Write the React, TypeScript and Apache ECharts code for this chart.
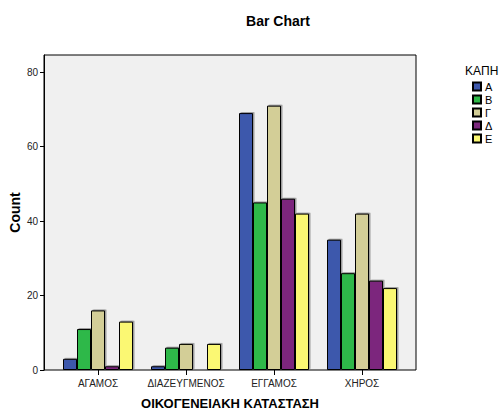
import React, { useEffect, useRef } from "react";
import * as echarts from "echarts";

const categories = ["ΑΓΑΜΟΣ", "ΔΙΑΖΕΥΓΜΕΝΟΣ", "ΕΓΓΑΜΟΣ", "ΧΗΡΟΣ"];
const seriesNames = ["Α", "Β", "Γ", "Δ", "Ε"];
const valuesA = [3, 1, 69, 35];
const valuesB = [11, 6, 45, 26];
const valuesG = [16, 7, 71, 42];
const valuesD = [1, 0, 46, 24];
const valuesE = [13, 7, 42, 22];
const yTicks = [0, 20, 40, 60, 80];
const colors = ["#3E58AC", "#2EB848", "#D3CE97", "#7C287D", "#FBF873"];

const FONT = "'Liberation Sans', Arial, sans-serif";

export default function App() {
  const ref = useRef<HTMLDivElement>(null);
  useEffect(() => {
    if (!ref.current) return;
    const chart = echarts.init(ref.current, null, { renderer: "svg" });
    const allValues = [valuesA, valuesB, valuesG, valuesD, valuesE];
    chart.setOption({
      animation: false,
      textStyle: { fontFamily: FONT },
      title: [
        {
          text: "Bar Chart",
          left: 273,
          textAlign: "center",
          top: 9,
          textStyle: { fontSize: 14, fontWeight: "bold", color: "#000", fontFamily: FONT },
        },
        {
          text: "ΚΑΠΗ",
          left: 465,
          top: 65,
          padding: 0,
          textStyle: { fontSize: 12, fontWeight: "normal", color: "#000", fontFamily: FONT },
        },
      ],
      legend: {
        orient: "vertical",
        left: 472,
        top: 81,
        padding: 0,
        itemWidth: 8,
        itemHeight: 8,
        itemGap: 2,
        icon: "rect",
        data: seriesNames,
        textStyle: { fontSize: 11, color: "#000", fontFamily: FONT, padding: [0, 0, 0, -1] },
      },
      grid: [
        {
          left: 44,
          right: 83,
          top: 55,
          bottom: 40,
          outerBoundsMode: "none",
          containLabel: false,
          show: true,
          backgroundColor: "#f0f0f0",
          borderColor: "#000",
          borderWidth: 1,
        },
        {
          left: 54,
          right: 93,
          top: 55,
          bottom: 40,
          outerBoundsMode: "none",
          containLabel: false,
        },
      ],
      xAxis: [
        { gridIndex: 0, type: "value", show: false },
        {
          gridIndex: 1,
          type: "category",
          data: categories,
          axisLine: { show: false },
          axisTick: { show: true, alignWithLabel: true, length: 5, lineStyle: { color: "#000" } },
          axisLabel: { fontSize: 10, color: "#222", margin: 8, interval: 0, hideOverlap: false, fontFamily: FONT },
          name: "ΟΙΚΟΓΕΝΕΙΑΚΗ ΚΑΤΑΣΤΑΣΗ",
          nameLocation: "middle",
          nameGap: 27,
          nameTextStyle: { fontSize: 13, fontWeight: "bold", color: "#000", fontFamily: FONT },
        },
      ],
      yAxis: [
        { gridIndex: 0, type: "value", show: false },
        {
          gridIndex: 1,
          type: "value",
          min: 0,
          max: 84.6,
          interval: 20,
          offset: 10,
          splitLine: { show: false },
          axisLine: { show: true, lineStyle: { color: "#000" } },
          axisTick: { show: true, length: 4, customValues: yTicks, lineStyle: { color: "#000" } },
          axisLabel: { fontSize: 10, color: "#222", margin: 6, customValues: yTicks, fontFamily: FONT },
          name: "Count",
          nameLocation: "middle",
          nameRotate: 90,
          nameGap: 22,
          nameMoveOverlap: false,
          nameTextStyle: { fontSize: 14, fontWeight: "bold", color: "#000", fontFamily: FONT },
        },
      ],
      series: seriesNames.map((name, i) => ({
        name,
        type: "bar",
        xAxisIndex: 1,
        yAxisIndex: 1,
        data: allValues[i],
        barWidth: 14,
        barGap: "0%",
        itemStyle: {
          color: colors[i],
          borderColor: "#000",
          borderWidth: 1,
          shadowColor: "rgba(0,0,0,0.35)",
          shadowOffsetX: 1.5,
          shadowOffsetY: -1,
          shadowBlur: 1,
        },
      })),
    });
    return () => chart.dispose();
  }, []);
  return (
    <div
      ref={ref}
      style={{ position: "absolute", left: 0, top: 0, width: 499, height: 410, background: "#fff" }}
    />
  );
}
